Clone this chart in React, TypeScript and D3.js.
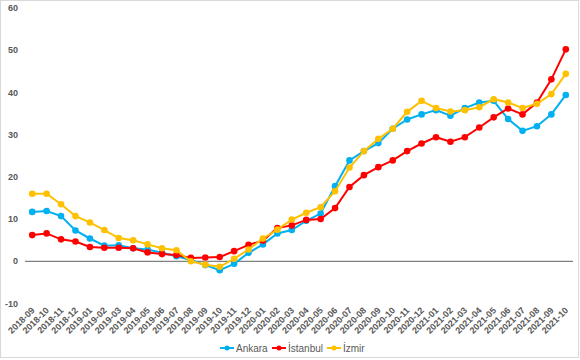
import React from "react";
import * as d3 from "d3";

const months = [
  "2018-09","2018-10","2018-11","2018-12","2019-01","2019-02","2019-03","2019-04","2019-05","2019-06",
  "2019-07","2019-08","2019-09","2019-10","2019-11","2019-12","2020-01","2020-02","2020-03","2020-04",
  "2020-05","2020-06","2020-07","2020-08","2020-09","2020-10","2020-11","2020-12","2021-01","2021-02",
  "2021-03","2021-04","2021-05","2021-06","2021-07","2021-08","2021-09","2021-10",
];
const ankara = [11.7,11.9,10.7,7.3,5.4,3.7,3.8,3.1,2.8,2.0,1.2,0.3,-0.9,-2.1,-0.6,2.0,4.0,6.6,7.4,9.6,
  11.3,17.8,23.9,26.1,28.0,31.4,33.6,34.8,35.8,34.5,36.3,37.6,38.0,33.7,30.9,32.0,34.8,39.4];
const istanbul = [6.2,6.6,5.2,4.7,3.4,3.2,3.2,3.1,2.1,1.7,1.5,0.8,0.9,1.0,2.4,3.9,4.9,7.9,8.5,9.8,
  10.0,12.6,17.6,20.4,22.3,23.9,26.1,27.9,29.4,28.3,29.4,31.7,34.1,36.2,34.8,37.6,43.1,50.2];
const izmir = [16.0,16.0,13.5,10.7,9.2,7.4,5.5,5.0,4.0,3.1,2.6,0.0,-0.8,-1.3,0.6,2.8,5.4,7.5,9.9,11.5,
  12.8,16.6,22.2,26.1,29.0,31.4,35.4,38.0,36.3,35.5,35.8,36.5,38.4,37.6,36.3,37.3,39.6,44.4];
const yTicks = [-10, 0, 10, 20, 30, 40, 50, 60];

const seriesNames = ["Ankara", "İstanbul", "İzmir"];
const seriesColors = ["#00B0F0", "#FF0000", "#FFC000"];
const seriesData = [ankara, istanbul, izmir];

export default function App() {
  const W = 580, H = 360;
  const x = d3.scaleBand<string>().domain(months).range([25, 573]);
  const y = d3.scaleLinear().domain([-10, 60]).range([303.5, 8]);
  const cx = (m: string) => (x(m) as number) + x.bandwidth() / 2;
  const line = d3.line<number>().x((_, i) => cx(months[i])).y((v) => y(v));
  const font = "'Liberation Sans', Arial, sans-serif";
  const legendX = [220, 272, 327];
  return (
    <svg width={W} height={H} style={{ position: "absolute", left: 0, top: 0, background: "#fff" }}>
      <rect x={0.5} y={0.5} width={578} height={357} fill="#fff" stroke="#D9D9D9" />
      {yTicks.map((t) => (
        <text key={t} x={18} y={y(t)} dy="0.35em" textAnchor="end" fontFamily={font} fontSize={9}
          fontWeight="bold" fill="#595959">{t}</text>
      ))}
      <line x1={25} x2={573} y1={y(0)} y2={y(0)} stroke="#808080" strokeWidth={1.3} />
      {months.map((m) => (
        <text key={m} transform={`translate(${cx(m) + 3},${311}) rotate(-45)`} textAnchor="end"
          fontFamily={font} fontSize={9} fontWeight="bold" fill="#595959">{m}</text>
      ))}
      {seriesData.map((d, s) => (
        <g key={s}>
          <path d={line(d) as string} fill="none" stroke={seriesColors[s]} strokeWidth={2} />
          {d.map((v, i) => (
            <circle key={i} cx={cx(months[i])} cy={y(v)} r={3.3} fill={seriesColors[s]} />
          ))}
        </g>
      ))}
      {seriesNames.map((n, s) => (
        <g key={n} transform={`translate(${legendX[s]},348)`}>
          <line x1={0} x2={14} y1={0} y2={0} stroke={seriesColors[s]} strokeWidth={2} />
          <circle cx={7} cy={0} r={2.5} fill={seriesColors[s]} />
          <text x={16} y={0} dy="0.35em" fontFamily={font} fontSize={10} fill="#595959">{n}</text>
        </g>
      ))}
    </svg>
  );
}
